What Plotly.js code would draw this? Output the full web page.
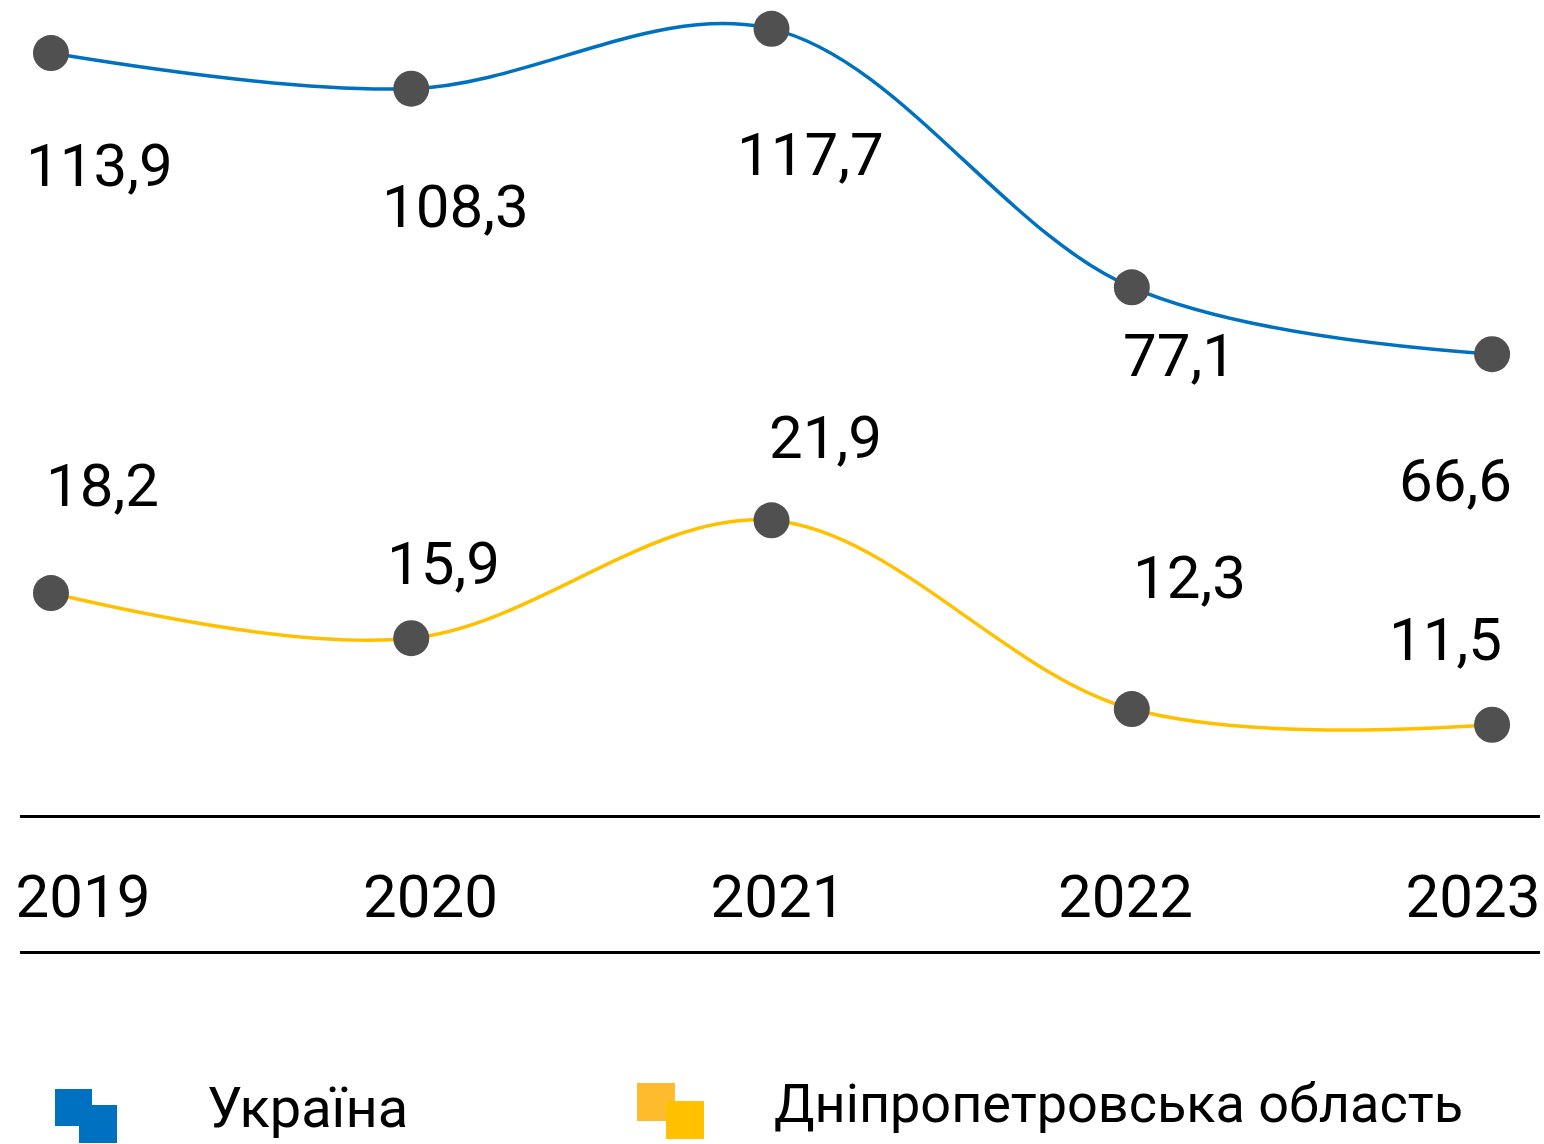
<!DOCTYPE html>
<html>
<head>
<meta charset="utf-8">
<script src="https://cdn.plot.ly/plotly-3.0.1.min.js"></script>
<style>html,body{margin:0;padding:0;background:#fff;}#chart{width:1544px;height:1144px;}</style>
</head>
<body>
<div id="chart"></div>
<script>
// ---- data ----
const years = [2019, 2020, 2021, 2022, 2023];
const yearLabels = ['2019', '2020', '2021', '2022', '2023'];
const ukraine = [113.9, 108.3, 117.7, 77.1, 66.6];
const dnipro = [18.2, 15.9, 21.9, 12.3, 11.5];
const seriesNames = ['Україна', 'Дніпропетровська область'];

// ---- styling ----
const FONT = 'Roboto, "Noto Sans", sans-serif';
const blue = '#0070C0';
const yellow = '#FFC000';
const markerGray = '#505050';
// label offsets (px) relative to the points
const ukDx = [49, 44, 39, 48, -37];
const ukDy = [112, 118, 126, 68, 126];
const dnDx = [52, 32, 54, 58, -47];
const dnDy = [-108, -75, -83, -132, -85];

const W = 1544, H = 1144;
const mL = 20, mR = 4, mT = 0, mB = 192;
const plotW = W - mL - mR, plotH = H - mT - mB;
const px2x = p => (p - mL) / plotW;
const px2y = p => (plotH + mT - p) / plotH;

const fmt = v => v.toFixed(1).replace('.', ',');

const traces = [
  {
    x: years, y: ukraine, name: seriesNames[0], type: 'scatter', mode: 'lines+markers',
    xaxis: 'x', yaxis: 'y',
    line: {color: blue, width: 3.5, shape: 'spline', smoothing: 1},
    marker: {color: markerGray, size: 36, line: {width: 0}},
    cliponaxis: false, hoverinfo: 'skip'
  },
  {
    x: years, y: dnipro, name: seriesNames[1], type: 'scatter', mode: 'lines+markers',
    xaxis: 'x', yaxis: 'y2',
    line: {color: yellow, width: 3.5, shape: 'spline', smoothing: 1},
    marker: {color: markerGray, size: 36, line: {width: 0}},
    cliponaxis: false, hoverinfo: 'skip'
  },
  // empty trace that only binds the year-label axis (draws nothing)
  {
    x: years, y: years.map(() => null), type: 'scatter', mode: 'lines',
    xaxis: 'x2', yaxis: 'y', showlegend: false, hoverinfo: 'skip'
  }
];

const annotations = [];
years.forEach((yr, i) => {
  annotations.push({
    x: yr, y: ukraine[i], xref: 'x', yref: 'y', text: fmt(ukraine[i]), showarrow: false,
    xshift: ukDx[i], yshift: -ukDy[i], xanchor: 'center', yanchor: 'middle',
    font: {family: FONT, size: 60, color: '#000'}
  });
  annotations.push({
    x: yr, y: dnipro[i], xref: 'x', yref: 'y2', text: fmt(dnipro[i]), showarrow: false,
    xshift: dnDx[i], yshift: -dnDy[i], xanchor: 'center', yanchor: 'middle',
    font: {family: FONT, size: 60, color: '#000'}
  });
});
// legend text
annotations.push({
  x: px2x(205), y: px2y(1108), xref: 'paper', yref: 'paper', text: seriesNames[0],
  showarrow: false, xanchor: 'left', yanchor: 'middle',
  font: {family: FONT, size: 56, color: '#000'}
});
annotations.push({
  x: px2x(772), y: px2y(1104), xref: 'paper', yref: 'paper', text: seriesNames[1],
  showarrow: false, xanchor: 'left', yanchor: 'middle',
  font: {family: FONT, size: 54, color: '#000'}
});

const sq = (x0, y0, x1, y1, c) => ({
  type: 'rect', xref: 'paper', yref: 'paper',
  x0: px2x(x0), x1: px2x(x1), y0: px2y(y1), y1: px2y(y0),
  fillcolor: c, line: {width: 0}
});
const shapes = [
  sq(55, 1089, 92, 1126, blue),
  sq(79, 1105, 117, 1143, blue),
  sq(637, 1083, 675, 1121, '#FFBB2E'),
  sq(666, 1101, 704, 1139, yellow)
];

const layout = {
  width: W, height: H,
  margin: {l: mL, r: mR, t: mT, b: mB, pad: 0},
  paper_bgcolor: '#fff', plot_bgcolor: '#fff',
  showlegend: false,
  font: {family: FONT, color: '#000'},
  xaxis: {
    anchor: 'y', range: [2018.914, 2023.133],
    showline: true, linecolor: '#000', linewidth: 3,
    showticklabels: false, ticks: '', showgrid: false, zeroline: false, fixedrange: true
  },
  xaxis2: {
    overlaying: 'x', anchor: 'free', position: 0, side: 'top',
    range: [2018.8187, 2023.193],
    tickmode: 'array', tickvals: years, ticktext: yearLabels,
    showline: true, linecolor: '#000', linewidth: 3,
    ticks: '', showgrid: false, zeroline: false, fixedrange: true,
    ticklabelstandoff: 10,
    tickfont: {family: FONT, size: 60, color: '#000'}
  },
  yaxis: {
    domain: [(952 - 815) / plotH, 1], range: [-5.79, 122.23],
    visible: false, showgrid: false, zeroline: false, fixedrange: true
  },
  yaxis2: {
    overlaying: 'y', range: [6.91, 48.36],
    visible: false, showgrid: false, zeroline: false, fixedrange: true
  },
  annotations: annotations,
  shapes: shapes
};

Plotly.newPlot('chart', traces, layout, {displayModeBar: false, staticPlot: true});
</script>
</body>
</html>
